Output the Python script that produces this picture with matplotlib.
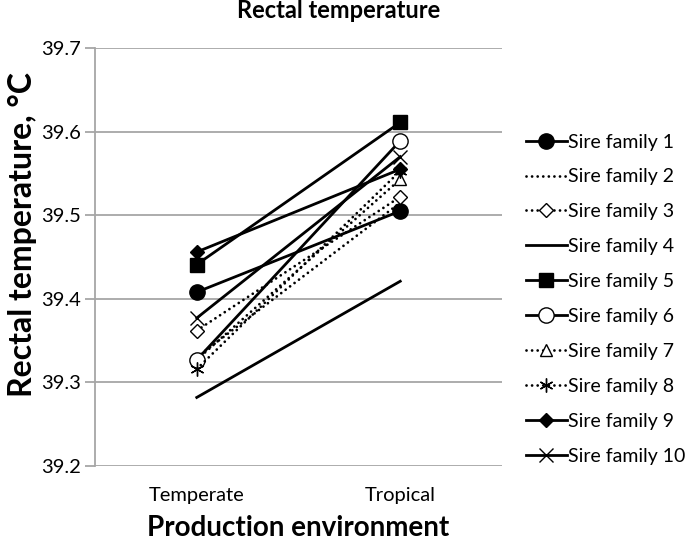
import matplotlib.pyplot as plt

plt.rcParams['font.family'] = ['Lato', 'DejaVu Sans']

environments = ['Temperate', 'Tropical']
families = ['Sire family %d' % i for i in range(1, 11)]
temperate = [39.408, 39.330, 39.362, 39.282, 39.441, 39.327, 39.327, 39.316, 39.456, 39.377]
tropical = [39.505, 39.515, 39.522, 39.421, 39.611, 39.589, 39.543, 39.553, 39.555, 39.570]

dot = (0, (0.01, 2.0))
styles = [
    dict(ls='-', marker='o', ms=11, mfc='black', mec='black'),
    dict(ls=dot, marker=None),
    dict(ls=dot, marker='D', ms=7, mfc='white', mec='black', mew=1.0),
    dict(ls='-', marker=None),
    dict(ls='-', marker='s', ms=10, mfc='black', mec='black'),
    dict(ls='-', marker='o', ms=11, mfc='white', mec='black', mew=1.0),
    dict(ls=dot, marker='^', ms=8, mfc='white', mec='black', mew=1.0),
    dict(ls=dot, marker=(6, 2, 0), ms=10, mfc='black', mec='black', mew=1.0),
    dict(ls='-', marker='D', ms=7.5, mfc='black', mec='black'),
    dict(ls='-', marker='x', ms=10, mfc='black', mec='black', mew=1.0),
]
# family 7 sits underneath family 6 at the temperate point
zorders = [3, 3, 3, 3, 3, 3.2, 3.1, 3.3, 3.3, 3.3]

fig = plt.figure(figsize=(6.9, 5.46), dpi=100)
ax = fig.add_axes([95/690, 1-466/546, 407/690, 418/546])

x = [1, 2]
for i in range(len(families)):
    st = dict(styles[i])
    ls = st.pop('ls')
    ax.plot(x, [temperate[i], tropical[i]], color='black', lw=2.0,
            linestyle=ls, dash_capstyle='round', label=families[i],
            zorder=zorders[i], **st)

ax.set_xlim(0.5, 2.5)
ax.set_ylim(39.2, 39.7)
ax.set_yticks([39.2, 39.3, 39.4, 39.5, 39.6, 39.7])
ax.set_yticklabels(['%.1f' % v for v in ax.get_yticks()])
ax.set_xticks(x)
ax.set_xticklabels(environments)
ax.grid(axis='y', color='#a6a6a6', lw=1.3)
ax.set_axisbelow(True)
for s in ['top', 'right', 'bottom']:
    ax.spines[s].set_visible(False)
ax.spines['left'].set_color('#a6a6a6')
ax.spines['left'].set_linewidth(1.3)
ax.tick_params(axis='y', length=7, color='#a6a6a6', width=1.3, labelsize=14.5, pad=3)
ax.tick_params(axis='x', length=0, labelsize=14.5, pad=15)

fig.text(339/690, 1-11/546, 'Rectal temperature', fontsize=17, fontweight='bold',
         ha='center', va='center')
ax.set_ylabel('Rectal temperature, °C', fontsize=23, fontweight='bold')
ax.yaxis.set_label_coords(-0.142, 0.553)
ax.set_xlabel('Production environment', fontsize=20, fontweight='bold', labelpad=8)

fig.legend(loc='center left', bbox_to_anchor=(516/690, 1-299/546), frameon=False,
           fontsize=14, handlelength=2.1, numpoints=1, labelspacing=0.92,
           handletextpad=0.1, borderpad=0)

fig.savefig('out.png', dpi=100)
